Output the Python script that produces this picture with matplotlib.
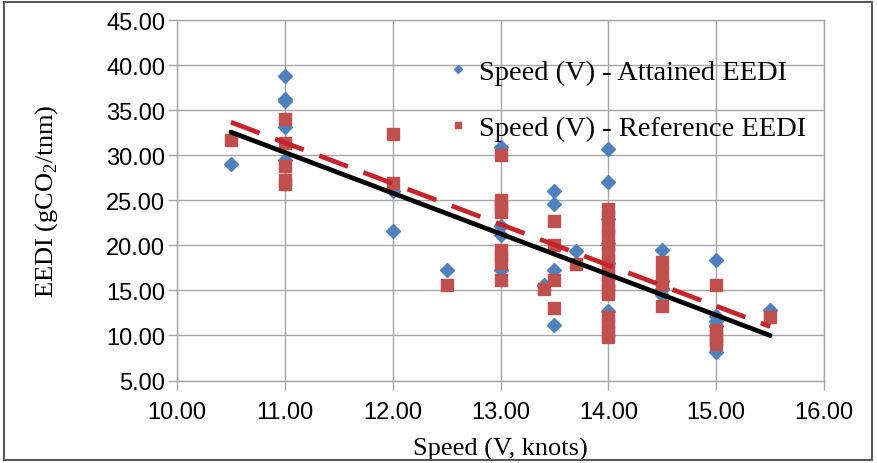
"""
Speed vs EEDI scatter — attained and reference EEDI with linear trend lines.
"""

import matplotlib
matplotlib.use("Agg")
import matplotlib.pyplot as plt
from matplotlib.patches import Rectangle

# ================================================================
# DATA
# ================================================================

attained_speed = [10.5,
                  11.0, 11.0, 11.0, 11.0, 11.0,
                  12.0, 12.0,
                  12.5,
                  13.0, 13.0, 13.0, 13.0,
                  13.4,
                  13.5, 13.5, 13.5, 13.5,
                  13.7,
                  14.0, 14.0, 14.0, 14.0, 14.0, 14.0,
                  14.5, 14.5, 14.5, 14.5,
                  15.0, 15.0, 15.0, 15.0, 15.0,
                  15.5]
attained_eedi = [29.0,
                 38.8, 36.3, 36.0, 33.2, 29.5,
                 26.0, 21.6,
                 17.3,
                 30.9, 22.2, 21.2, 17.3,
                 15.6,
                 26.0, 24.6, 17.3, 11.2,
                 19.4,
                 30.7, 27.1, 22.9, 20.3, 18.0, 12.7,
                 19.5, 16.0, 15.2, 14.5,
                 18.4, 12.2, 11.6, 11.0, 8.2,
                 12.8]

reference_speed = [10.5,
                   11.0, 11.0, 11.0, 11.0, 11.0,
                   12.0, 12.0,
                   12.5,
                   13.0, 13.0, 13.0, 13.0, 13.0, 13.0, 13.0, 13.0,
                   13.4,
                   13.5, 13.5, 13.5, 13.5,
                   13.7,
                   14.0, 14.0, 14.0, 14.0, 14.0, 14.0, 14.0, 14.0,
                   14.0, 14.0, 14.0, 14.0, 14.0, 14.0, 14.0, 14.0,
                   14.5, 14.5, 14.5, 14.5,
                   15.0, 15.0, 15.0, 15.0, 15.0,
                   15.5]
reference_eedi = [31.7,
                  34.0, 31.4, 28.8, 27.3, 26.8,
                  32.4, 26.9,
                  15.6,
                  30.1, 25.0, 24.4, 23.7, 19.5, 18.8, 18.1, 16.2,
                  15.2,
                  22.7, 20.1, 16.2, 13.0,
                  17.9,
                  24.0, 23.3, 22.0, 21.2, 20.0, 19.2, 18.3, 17.5,
                  16.7, 15.8, 15.0, 14.6, 12.0, 11.3, 10.5, 9.8,
                  18.2, 16.9, 15.7, 13.3,
                  15.6, 10.6, 10.0, 9.5, 9.0,
                  12.0]

# linear trend end points
trend_speed = [10.5, 15.5]
attained_trend = [32.6, 10.0]
reference_trend = [33.7, 11.0]

x_ticks = [10.0, 11.0, 12.0, 13.0, 14.0, 15.0, 16.0]
y_ticks = [5.0, 10.0, 15.0, 20.0, 25.0, 30.0, 35.0, 40.0, 45.0]

BLUE = "#4F81BD"
RED = "#C0504D"
DASH_RED = "#C8232B"
GRID = "#A6A6A6"

SERIF = ["Liberation Serif", "DejaVu Serif"]
TICK_FONT = ["Liberation Sans Narrow", "Liberation Sans", "DejaVu Sans"]

plt.rcParams["mathtext.fontset"] = "custom"
plt.rcParams["mathtext.rm"] = "Liberation Serif"

# ================================================================
# PLOT
# ================================================================

fig = plt.figure(figsize=(8.77, 4.64), dpi=100)
ax = fig.add_axes([0.2018, 0.1778, 0.7378, 0.7759])

ax.plot(attained_speed, attained_eedi, linestyle="none", marker="D",
        markersize=7.5, color=BLUE, label="Speed (V) - Attained EEDI", zorder=3)
ax.plot(reference_speed, reference_eedi, linestyle="none", marker="s",
        markersize=8, color=RED, label="Speed (V) - Reference EEDI", zorder=4)

ax.plot(trend_speed, attained_trend, color="black", linewidth=3.4,
        solid_capstyle="round", zorder=5)
ax.plot(trend_speed, reference_trend, color=DASH_RED, linewidth=3.4,
        dashes=(6.5, 3.5), zorder=5)

ax.set_xlim(10, 16)
ax.set_ylim(5, 45)
ax.set_xticks(x_ticks)
ax.set_yticks(y_ticks)
ax.set_xticklabels([f"{v:.2f}" for v in x_ticks], family=TICK_FONT, fontsize=17)
ax.set_yticklabels([f"{v:.2f}" for v in y_ticks], family=TICK_FONT, fontsize=17)
ax.tick_params(direction="out", length=6.5, width=1, color=GRID)
ax.tick_params(axis="x", pad=8)
ax.tick_params(axis="y", pad=2)

ax.grid(True, color=GRID, linewidth=1)
ax.set_axisbelow(True)
for side in ["left", "bottom", "top", "right"]:
    ax.spines[side].set_color(GRID)
    ax.spines[side].set_linewidth(1)

ax.set_xlabel("Speed (V, knots)", family=SERIF, fontsize=19, labelpad=10)
ax.set_ylabel("EEDI (gCO$_{\\mathregular{2}}$/tnm)", family=SERIF,
              fontsize=19, labelpad=33)

leg = ax.legend(loc="upper left", bbox_to_anchor=(0.403, 0.925), frameon=False,
                prop={"family": SERIF, "size": 20.5}, markerscale=0.55,
                handlelength=0.6, handletextpad=0.45, labelspacing=1.05,
                borderaxespad=0)

# outer chart border
fig.patches.append(Rectangle((0.004, 0.006), 0.99, 0.988, transform=fig.transFigure,
                             fill=False, edgecolor="#595959", linewidth=1.5))

fig.savefig("out.png", dpi=100)
